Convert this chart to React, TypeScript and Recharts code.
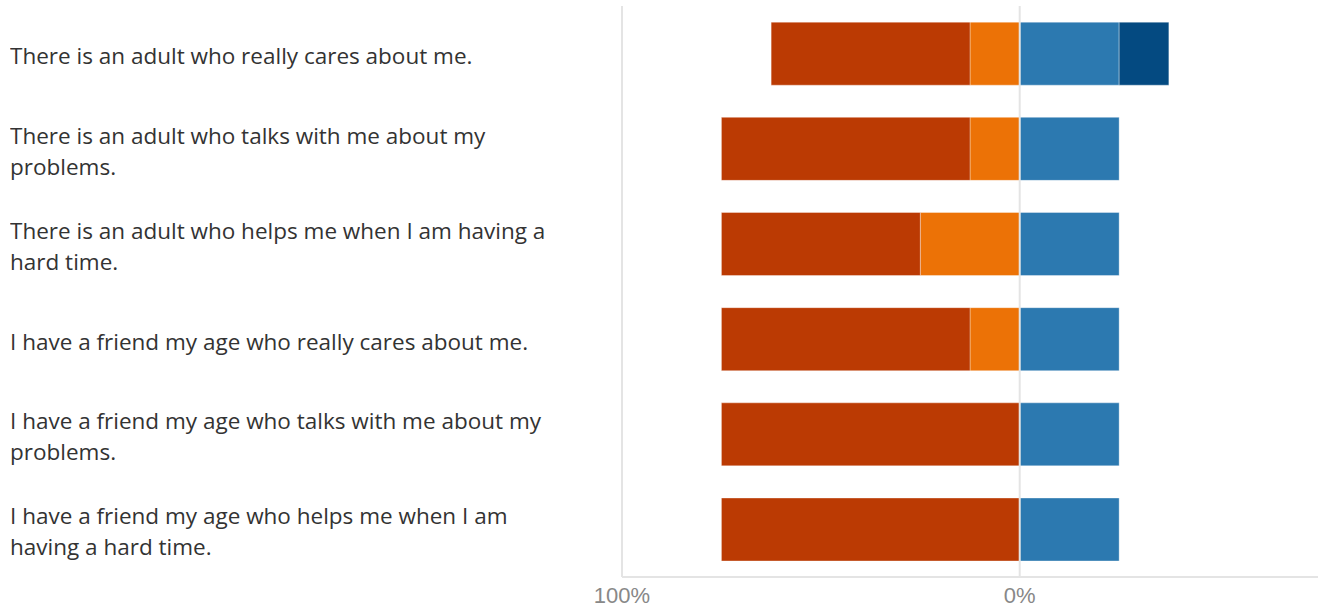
import { Bar, BarChart, ReferenceLine, XAxis, YAxis } from "recharts";

const statements = [
  "There is an adult who really cares about me.",
  "There is an adult who talks with me about my\nproblems.",
  "There is an adult who helps me when I am having a\nhard time.",
  "I have a friend my age who really cares about me.",
  "I have a friend my age who talks with me about my\nproblems.",
  "I have a friend my age who helps me when I am\nhaving a hard time.",
];

// percent of responses per statement
const stronglyDisagree = [50, 62.5, 50, 62.5, 75, 75];
const disagree = [12.5, 12.5, 25, 12.5, 0, 0];
const agree = [25, 25, 25, 25, 25, 25];
const stronglyAgree = [12.5, 0, 0, 0, 0, 0];

const xTicks = [-100, 0];

const data = statements.map((label, i) => ({
  label,
  disagree: -disagree[i],
  stronglyDisagree: -stronglyDisagree[i],
  agree: agree[i],
  stronglyAgree: stronglyAgree[i],
}));

function LabelTick({ y, payload }: any) {
  return (
    <foreignObject x={10} y={y - 46} width={600} height={96}>
      <div
        style={{
          height: "100%",
          display: "flex",
          alignItems: "center",
          whiteSpace: "pre-line",
          fontFamily: "'Open Sans', sans-serif",
          fontSize: 22.5,
          lineHeight: "31px",
          color: "#333",
        }}
      >
        {payload.value}
      </div>
    </foreignObject>
  );
}

export default function App() {
  const barStroke = { stroke: "#ffffff", strokeOpacity: 0.35, strokeWidth: 1 };
  return (
    <div style={{ position: "absolute", left: 0, top: 0, width: 1327, height: 612, background: "#fff" }}>
      <BarChart
        width={1327}
        height={612}
        data={data}
        layout="vertical"
        stackOffset="sign"
        barCategoryGap="17%"
        margin={{ top: 6, right: 9, left: 10, bottom: 0 }}
      >
        {xTicks.map((t) => (
          <ReferenceLine key={t} x={t} stroke="#e4e4e4" strokeWidth={2} />
        ))}
        <XAxis
          type="number"
          domain={[-100, 75]}
          ticks={xTicks}
          height={35}
          tickLine={false}
          axisLine={{ stroke: "#e4e4e4", strokeWidth: 2 }}
          tickFormatter={(v: number) => `${Math.abs(v)}%`}
          tick={{ fill: "#888", fontSize: 22, fontFamily: "'Liberation Sans', Arial, sans-serif" }}
          tickMargin={4}
        />
        <YAxis
          type="category"
          dataKey="label"
          width={612}
          axisLine={false}
          tickLine={false}
          tick={<LabelTick />}
        />
        <Bar dataKey="disagree" stackId="a" fill="#EC7206" {...barStroke} isAnimationActive={false} />
        <Bar dataKey="stronglyDisagree" stackId="a" fill="#BB3A03" {...barStroke} isAnimationActive={false} />
        <Bar dataKey="agree" stackId="a" fill="#2C79B0" {...barStroke} isAnimationActive={false} />
        <Bar dataKey="stronglyAgree" stackId="a" fill="#044A81" {...barStroke} isAnimationActive={false} />
      </BarChart>
    </div>
  );
}
